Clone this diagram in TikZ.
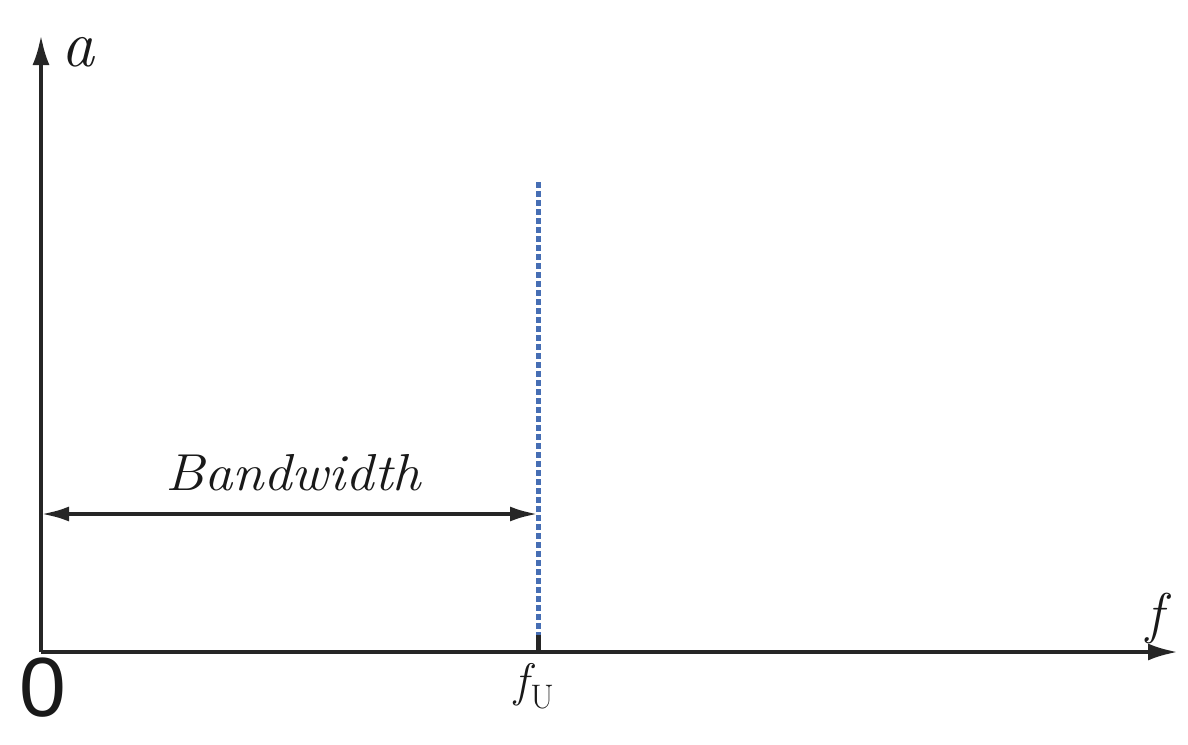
\documentclass[tikz,border=0pt]{standalone}
\usepackage{fontspec}
\newfontfamily\sansf{Liberation Sans}
\usetikzlibrary{arrows.meta}
\definecolor{dotblue}{RGB}{70,110,180}
\tikzset{
  axis/.style={line width=4pt, draw=black!85, -{Latex[length=30pt,width=17pt]}},
  bw/.style={line width=4pt, draw=black!85, {Latex[length=28pt,width=15pt]}-{Latex[length=28pt,width=15pt]}},
  cutoff/.style={line width=5pt, draw=dotblue, dash pattern=on 6pt off 3pt},
  lbl/.style={inner sep=0pt, text=black!90}
}
\begin{document}
\begin{tikzpicture}[x=1pt,y=-1pt]
\useasboundingbox (0,0) rectangle (1188,744);
\coordinate (O) at (41,652);
\coordinate (ytop) at (41,35);
\coordinate (xend) at (1178,652);
\coordinate (fu) at (538,652);
\coordinate (futop) at (538,182);
\coordinate (tick) at (538,635);
\coordinate (bwl) at (41,514);
\coordinate (bwr) at (538,514);
\draw[axis] (O) -- (ytop);
\draw[axis] (O) -- (xend);
\draw[cutoff] (futop) -- (tick);
\draw[line width=5pt, draw=black!85] (tick) -- (fu);
\draw[bw] (bwl) -- (bwr);
\node[lbl, font=\fontsize{52}{60}\selectfont\itshape, xscale=1.09] (bwlabel) at (293,473) {Bandwidth};
\node[lbl, font=\fontsize{66}{70}\selectfont\itshape] (alabel) at (78,52) {a};
\node[lbl, font=\fontsize{56}{60}\selectfont\itshape] (flabel) at (1155,618) {f};
\node[lbl, font=\fontsize{47}{50}\selectfont\itshape, anchor=west] (fulabel) at (514,686) {f\kern2pt\raisebox{-12pt}{\upshape\fontsize{34}{34}\selectfont U}};
\node[lbl, font=\fontsize{84}{90}\selectfont\sansf] (zero) at (43,688) {0};
\end{tikzpicture}
\end{document}
